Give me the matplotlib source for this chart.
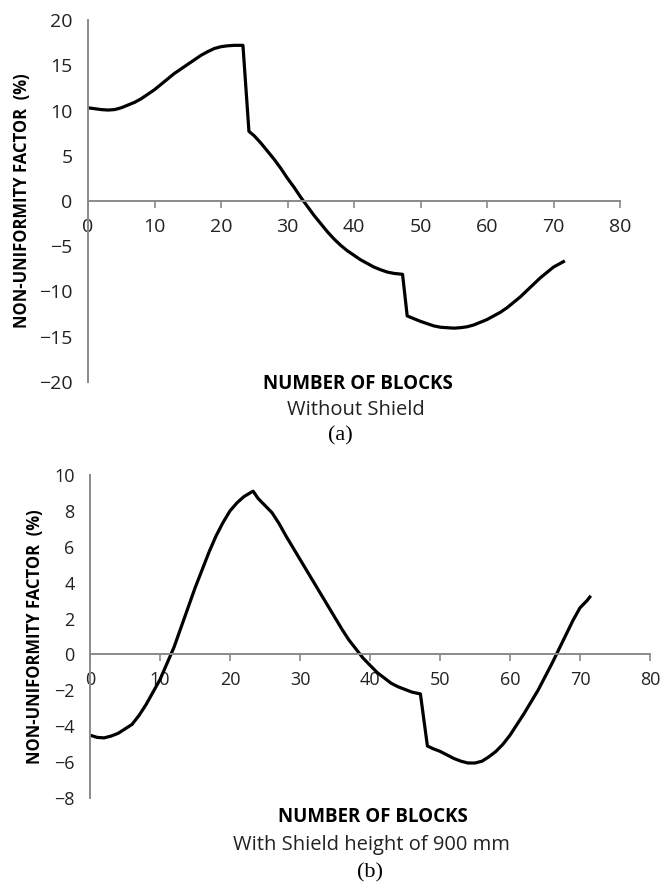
import matplotlib
matplotlib.use("Agg")
import matplotlib.pyplot as plt

# Panel (a): without shield
blocks_a = [0, 1, 2, 3, 4, 5, 6, 7, 8, 9, 10, 11, 12, 13, 14, 15, 16, 17, 18, 19,
            20, 21, 22, 23.3, 24.2, 25, 26, 27, 28, 29, 30, 31, 32, 33, 34, 35, 36,
            37, 38, 39, 40, 41, 42, 43, 44, 45, 46, 47.3, 48, 49, 50, 51, 52, 53,
            54, 55, 56, 57, 58, 59, 60, 61, 62, 63, 64, 65, 66, 67, 68, 69, 70, 71,
            71.5]
nuf_a = [10.3, 10.2, 10.1, 10.05, 10.1, 10.3, 10.6, 10.9, 11.3, 11.8, 12.3, 12.9,
         13.5, 14.1, 14.6, 15.1, 15.6, 16.1, 16.5, 16.85, 17.05, 17.15, 17.2, 17.2,
         7.7, 7.2, 6.4, 5.5, 4.6, 3.6, 2.5, 1.5, 0.4, -0.6, -1.6, -2.5, -3.4, -4.2,
         -4.9, -5.5, -6.0, -6.5, -6.9, -7.3, -7.6, -7.85, -8.0, -8.1, -12.7, -13.0,
         -13.3, -13.55, -13.8, -13.95, -14.0, -14.05, -14.0, -13.9, -13.7, -13.4,
         -13.1, -12.7, -12.3, -11.8, -11.2, -10.6, -9.9, -9.2, -8.5, -7.9, -7.3,
         -6.9, -6.7]

# Panel (b): with shield height of 900 mm
blocks_b = [0, 1, 2, 3, 4, 5, 6, 7, 8, 9, 10, 11, 12, 13, 14, 15, 16, 17, 18, 19,
            20, 21, 22, 23.3, 24, 25, 26, 27, 28, 29, 30, 31, 32, 33, 34, 35, 36,
            37, 38, 39, 40, 41, 42, 43, 44, 45, 46, 47.2, 48.2, 49, 50, 51, 52, 53,
            54, 55, 56, 57, 58, 59, 60, 61, 62, 63, 64, 65, 66, 67, 68, 69, 70, 71,
            71.4]
nuf_b = [-4.5, -4.62, -4.65, -4.55, -4.4, -4.15, -3.9, -3.4, -2.8, -2.1, -1.4,
         -0.5, 0.4, 1.5, 2.6, 3.7, 4.7, 5.7, 6.6, 7.35, 8.0, 8.45, 8.8, 9.1, 8.7,
         8.3, 7.9, 7.3, 6.6, 5.95, 5.3, 4.65, 4.0, 3.35, 2.7, 2.05, 1.4, 0.8, 0.3,
         -0.2, -0.6, -1.0, -1.3, -1.6, -1.8, -1.95, -2.1, -2.2, -5.1, -5.25, -5.4,
         -5.6, -5.8, -5.95, -6.05, -6.05, -5.95, -5.7, -5.4, -5.0, -4.5, -3.9,
         -3.3, -2.65, -2.0, -1.25, -0.5, 0.3, 1.1, 1.9, 2.6, 3.0, 3.2]

xticks = [0, 10, 20, 30, 40, 50, 60, 70, 80]
yticks_a = [-20, -15, -10, -5, 0, 5, 10, 15, 20]
yticks_b = [-8, -6, -4, -2, 0, 2, 4, 6, 8, 10]

ylabel = "NON-UNIFORMITY FACTOR  (%)"
xlabel = "NUMBER OF BLOCKS"
sub_a = "Without Shield"
sub_b = "With Shield height of 900 mm"

SANS = ["Open Sans", "DejaVu Sans"]
SERIF = ["Liberation Serif", "DejaVu Serif"]
AXIS_GREY = "#8a8a8a"
TEXT_DARK = "#222222"

fig = plt.figure(figsize=(6.66, 8.90), dpi=100)
W, H = 666, 890


def px_axes(left, top, right, bottom):
    return fig.add_axes([left / W, 1 - bottom / H, (right - left) / W, (bottom - top) / H])


def style(ax, yticks, ylim, tick_fs):
    ax.set_xlim(0, 80)
    ax.set_ylim(*ylim)
    for s in ("top", "right"):
        ax.spines[s].set_visible(False)
    ax.spines["bottom"].set_position(("data", 0))
    for s in ("left", "bottom"):
        ax.spines[s].set_color(AXIS_GREY)
        ax.spines[s].set_linewidth(1.4)
    ax.set_xticks(xticks)
    ax.set_yticks(yticks)
    ax.set_xticklabels([str(t) for t in xticks], family=SANS, fontsize=tick_fs,
                       color=TEXT_DARK)
    ax.set_yticklabels([str(t).replace("-", "\u2212") for t in yticks], family=SANS,
                       fontsize=tick_fs, color=TEXT_DARK)
    ax.tick_params(axis="x", direction="out", length=5, width=1.2,
                   color=AXIS_GREY, pad=7)
    ax.tick_params(axis="y", length=0, pad=11)
    ax.patch.set_alpha(0)


ax1 = px_axes(88, 20, 620, 382)
ax1.plot(blocks_a, nuf_a, color="black", lw=2.3, solid_joinstyle="round")
style(ax1, yticks_a, (-20, 20), 14)

ax2 = px_axes(90, 475, 650, 798)
ax2.plot(blocks_b, nuf_b, color="black", lw=2.3, solid_joinstyle="round")
style(ax2, yticks_b, (-8, 10), 13)

# axis titles and captions
fig.text(22 / W, 1 - 201 / H, ylabel, rotation=90, ha="center", va="center",
         family=SANS, fontweight="bold", fontsize=12, color="black")
fig.text(35 / W, 1 - 637 / H, ylabel, rotation=90, ha="center", va="center",
         family=SANS, fontweight="bold", fontsize=12, color="black")

fig.text(358 / W, 1 - 384 / H, xlabel, ha="center", va="center",
         family=SANS, fontweight="bold", fontsize=13.5, color="black")
fig.text(356 / W, 1 - 410 / H, sub_a, ha="center", va="center",
         family=SANS, fontsize=14.5, color=TEXT_DARK)
fig.text(340 / W, 1 - 436 / H, "(a)", ha="center", va="center",
         family=SERIF, fontsize=16, color="black")

fig.text(373 / W, 1 - 817 / H, xlabel, ha="center", va="center",
         family=SANS, fontweight="bold", fontsize=13.5, color="black")
fig.text(371 / W, 1 - 845 / H, sub_b, ha="center", va="center",
         family=SANS, fontsize=14.5, color=TEXT_DARK)
fig.text(370 / W, 1 - 873 / H, "(b)", ha="center", va="center",
         family=SERIF, fontsize=16, color="black")

fig.savefig("out.png", dpi=100, facecolor="white")
